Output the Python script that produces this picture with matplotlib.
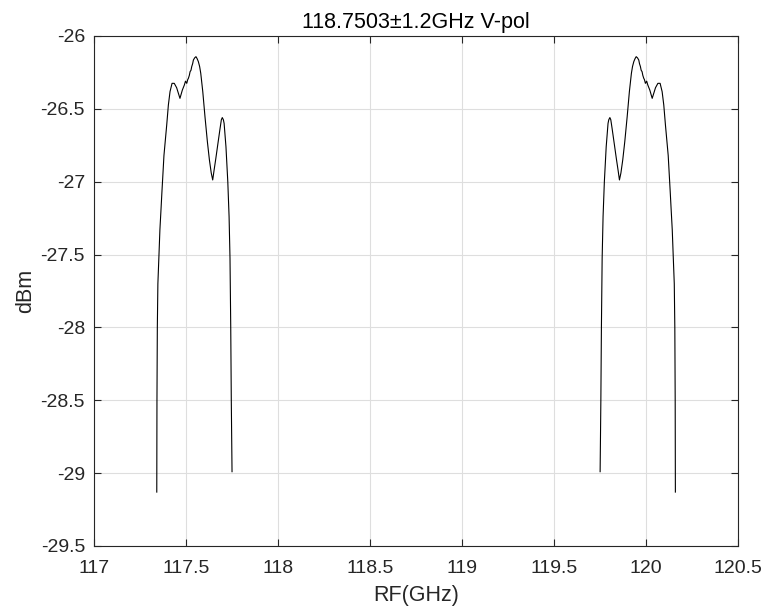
import matplotlib.pyplot as plt
import numpy as np

plt.rcParams['font.family'] = ['Liberation Sans', 'DejaVu Sans']

# LO frequency and measured IF response (GHz offset from LO, dBm)
lo_freq = 118.7503
if_freq = [1.4093, 1.4083, 1.4063, 1.4033, 1.3973, 1.3923, 1.3863, 1.3813,
           1.3773, 1.3703, 1.3553, 1.3463, 1.3373, 1.3263, 1.3143, 1.3013,
           1.2833, 1.2703, 1.2593, 1.2533, 1.2463, 1.2413, 1.2373, 1.2323,
           1.2283, 1.2233, 1.2193, 1.2143, 1.2103, 1.2033, 1.1963, 1.1903,
           1.1833, 1.1763, 1.1703, 1.1593, 1.1473, 1.1343, 1.1233, 1.1133,
           1.1053, 1.0983, 1.0883, 1.0783, 1.0653, 1.0583, 1.0533, 1.0473,
           1.0433, 1.0333, 1.0283, 1.0233, 1.0163, 1.0113, 1.0073, 1.0043,
           1.0003]
power_dbm = [-29.13, -28.50, -28.00, -27.70, -27.50, -27.33, -27.19, -27.07,
             -26.98, -26.82, -26.611, -26.474, -26.382, -26.325, -26.325, -26.355,
             -26.428, -26.371, -26.336, -26.31, -26.325, -26.30, -26.29, -26.27,
             -26.245, -26.235, -26.21, -26.19, -26.165, -26.15, -26.142, -26.155,
             -26.176, -26.21, -26.256, -26.382, -26.554, -26.725, -26.85, -26.94,
             -26.988, -26.925, -26.84, -26.75, -26.634, -26.575, -26.56, -26.575,
             -26.60, -26.76, -26.88, -27.00, -27.24, -27.526, -28.00, -28.50,
             -28.99]

x_ticks = [117, 117.5, 118, 118.5, 119, 119.5, 120, 120.5]
y_ticks = [-29.5, -29, -28.5, -28, -27.5, -27, -26.5, -26]

if_arr = np.array(if_freq)
lsb = lo_freq - if_arr
usb = lo_freq + if_arr

fig = plt.figure(figsize=(7.67, 6.15), dpi=100)
ax = fig.add_axes([0.1226, 0.1122, 0.8396, 0.8293])

ax.plot(lsb, power_dbm, color='black', linewidth=0.8)
ax.plot(usb, power_dbm, color='black', linewidth=0.8)

ax.set_xlim(117, 120.5)
ax.set_ylim(-29.5, -26)
ax.set_xticks(x_ticks)
ax.set_xticklabels(['117', '117.5', '118', '118.5', '119', '119.5', '120', '120.5'])
ax.set_yticks(y_ticks)
ax.set_yticklabels(['-29.5', '-29', '-28.5', '-28', '-27.5', '-27', '-26.5', '-26'])

ax.grid(True, color='#dedede', linewidth=0.8)
ax.set_axisbelow(True)
for s in ax.spines.values():
    s.set_color('#262626')
    s.set_linewidth(0.8)
ax.tick_params(direction='in', length=4.8, width=0.8, color='#262626',
               labelsize=14, labelcolor='#262626', top=True, right=True)
ax.tick_params(axis='x', pad=10)
ax.tick_params(axis='y', pad=6.5)

ax.set_title('118.7503\u00b11.2GHz V-pol', fontsize=15.5, color='black', pad=6)
ax.set_xlabel('RF(GHz)', fontsize=15.5, color='#262626', labelpad=6)
ax.set_ylabel('dBm', fontsize=15.5, color='#262626', labelpad=3)

fig.savefig('out.png', dpi=100)
